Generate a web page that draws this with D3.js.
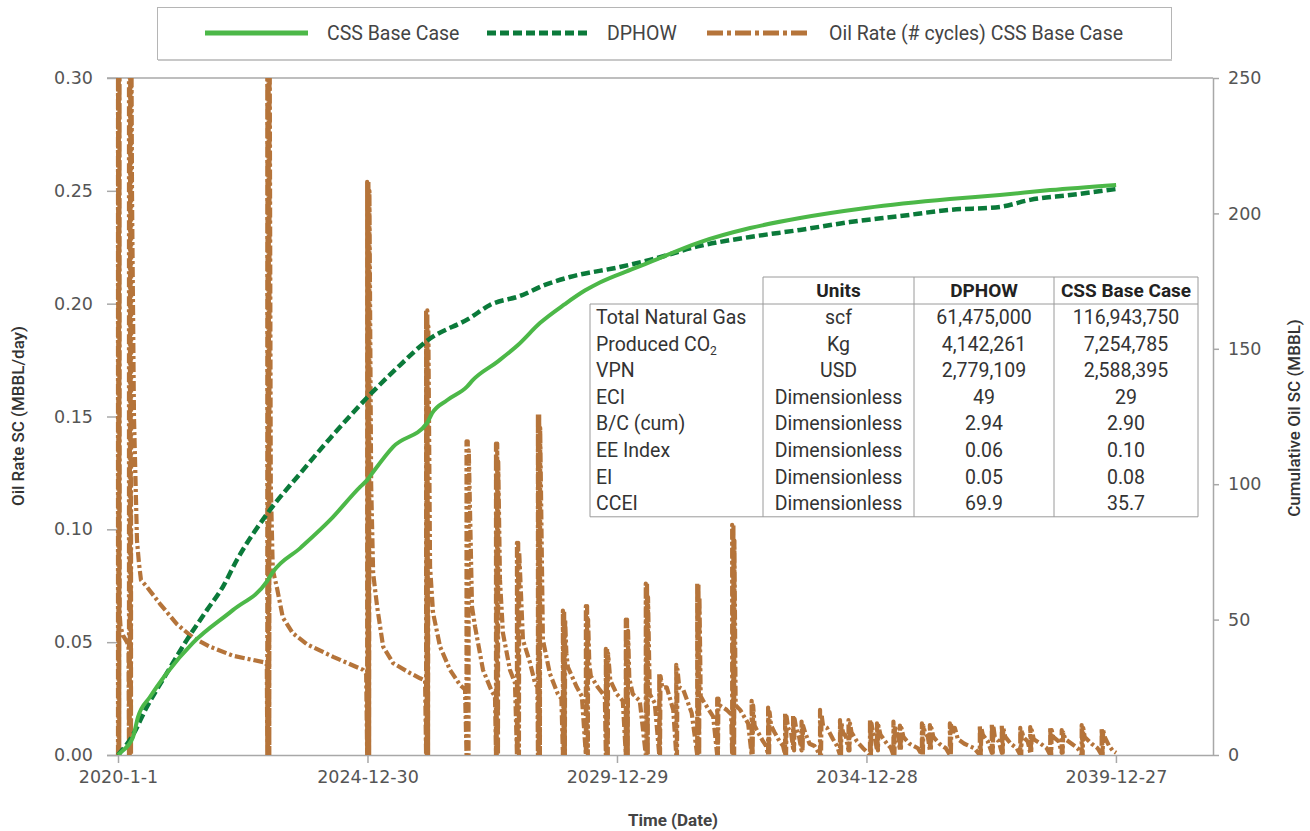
<!DOCTYPE html>
<html><head><meta charset="utf-8">
<script src="https://cdn.jsdelivr.net/npm/d3@7"></script>
<style>body{margin:0;background:#fff} svg{display:block}</style>
</head><body><svg id="chart" width="1310" height="831"></svg>
<script>
// ---------- DATA ----------
const xTickDates  = ["2020-01-01","2024-12-30","2029-12-29","2034-12-28","2039-12-27"];
const xTickLabels = ["2020-1-1","2024-12-30","2029-12-29","2034-12-28","2039-12-27"];
const leftTicks  = [0,0.05,0.10,0.15,0.20,0.25,0.30];
const rightTicks = [0,50,100,150,200,250];

// Cumulative oil (MBBL), CSS Base Case — decimal year / value
const cssYears = [2020.00,2020.04,2020.30,2020.40,2020.64,2020.98,2021.50,2022.30,2022.98,2023.10,2023.65,2024.25,2024.85,2024.99,2025.09,2025.51,2026.19,2026.29,2026.59,2026.99,2027.11,2027.59,2028.01,2028.45,2028.95,2029.35,2029.65,2030.31,2030.65,2031.66,2032.66,2033.66,2034.98,2036.66,2037.66,2038.67,2039.99];
const cssCum   = [0,0.7,6.6,14,21.4,30.3,41.4,53.5,64,67.5,76.4,86.8,99.0,101.5,104,113.8,122.6,126.2,131.0,136.0,138.5,145.1,151.4,159.5,166.5,171.5,174.5,179.5,182,189.4,194.6,198.3,202,205.3,206.8,208.6,210.5];

// Cumulative oil (MBBL), DPHOW
const dphowYears = [2020.00,2020.28,2020.58,2020.98,2021.38,2021.78,2022.10,2022.38,2023.00,2023.65,2024.25,2024.99,2025.65,2026.19,2027.05,2027.45,2028.05,2028.55,2029.05,2030.05,2030.65,2031.66,2032.66,2033.66,2034.66,2035.66,2036.66,2037.66,2038.27,2039.07,2039.99];
const dphowCum   = [0,6.8,17.8,30.3,42.5,53.5,62.1,72,89.4,104,117,132,144,153,161.4,166.2,169.5,173.6,176.5,180.2,182.8,188.0,191.3,193.9,196.8,199.0,201.3,202.4,205.0,206.8,209.0];

// Oil rate (MBBL/day), CSS Base Case cycles — [decimal year, value]
const oilRate = [
 [2020.00,0],[2020.00,0.34],[2020.01,0],[2020.015,0.34],[2020.025,0],[2020.03,0.34],[2020.035,0.062],[2020.05,0.057],[2020.10,0.053],[2020.18,0.050],[2020.21,0.048],
 [2020.22,0],[2020.22,0.34],[2020.235,0],[2020.245,0.34],[2020.26,0],[2020.265,0.34],[2020.28,0.25],[2020.32,0.15],[2020.38,0.095],[2020.42,0.085],[2020.46,0.0775],[2020.58,0.0745],[2020.84,0.067],[2021.18,0.058],[2021.50,0.052],[2021.84,0.048],[2022.30,0.044],[2022.94,0.041],[2022.98,0.040],
 [2022.99,0],[2022.99,0.34],[2023.005,0],[2023.015,0.34],[2023.03,0],[2023.035,0.34],[2023.06,0.12],[2023.10,0.082],[2023.18,0.0745],[2023.30,0.061],[2023.50,0.054],[2023.79,0.049],[2024.31,0.0435],[2024.91,0.0377],[2024.97,0.036],
 [2024.99,0],[2024.99,0.254],[2025.005,0],[2025.015,0.254],[2025.03,0],[2025.035,0.25],[2025.07,0.12],[2025.11,0.0806],[2025.19,0.0657],[2025.31,0.048],[2025.51,0.0407],[2025.85,0.0363],[2026.05,0.034],[2026.15,0.033],
 [2026.17,0],[2026.17,0.197],[2026.185,0],[2026.195,0.197],[2026.21,0],[2026.215,0.19],[2026.25,0.0834],[2026.31,0.063],[2026.45,0.048],[2026.65,0.0377],[2026.85,0.031],[2026.95,0.029],
 [2026.98,0],[2026.98,0.139],[2026.995,0],[2027.005,0.139],[2027.02,0],[2027.025,0.135],[2027.09,0.0657],[2027.15,0.057],[2027.31,0.0377],[2027.49,0.028],[2027.55,0.026],
 [2027.57,0],[2027.57,0.138],[2027.585,0],[2027.595,0.138],[2027.61,0],[2027.615,0.13],[2027.65,0.0776],[2027.71,0.054],[2027.85,0.0377],[2027.95,0.032],
 [2027.99,0],[2027.99,0.094],[2028.005,0],[2028.015,0.094],[2028.03,0],[2028.035,0.09],[2028.11,0.051],[2028.25,0.041],[2028.35,0.032],[2028.40,0.030],
 [2028.41,0],[2028.41,0.151],[2028.425,0],[2028.435,0.151],[2028.45,0],[2028.455,0.145],[2028.51,0.051],[2028.65,0.036],[2028.81,0.027],[2028.88,0.025],
 [2028.91,0],[2028.91,0.064],[2028.925,0],[2028.935,0.064],[2028.95,0],[2028.955,0.060],[2028.98,0.045],[2029.01,0.039],[2029.19,0.030],[2029.29,0.026],
 [2029.37,0],[2029.37,0.066],[2029.385,0],[2029.395,0.066],[2029.41,0],[2029.415,0.060],[2029.44,0.040],[2029.47,0.035],[2029.61,0.030],[2029.75,0.026],
 [2029.77,0],[2029.77,0.047],[2029.785,0],[2029.795,0.047],[2029.81,0],[2029.815,0.045],[2029.86,0.033],[2029.99,0.027],[2030.11,0.024],
 [2030.17,0],[2030.17,0.060],[2030.185,0],[2030.195,0.060],[2030.21,0],[2030.215,0.055],[2030.24,0.034],[2030.31,0.027],[2030.45,0.024],
 [2030.57,0],[2030.57,0.076],[2030.585,0],[2030.595,0.076],[2030.61,0],[2030.615,0.070],[2030.65,0.027],[2030.75,0.023],
 [2030.84,0],[2030.84,0.036],[2030.855,0],[2030.865,0.035],[2030.90,0.030],[2030.99,0.030],[2031.12,0.020],
 [2031.18,0],[2031.18,0.040],[2031.195,0],[2031.205,0.038],[2031.24,0.030],[2031.32,0.029],[2031.49,0.0186],
 [2031.60,0],[2031.60,0.076],[2031.615,0],[2031.625,0.076],[2031.64,0],[2031.645,0.070],[2031.67,0.026],[2031.72,0.024],[2031.92,0.017],
 [2032.00,0],[2032.00,0.025],[2032.015,0],[2032.025,0.025],[2032.05,0.022],[2032.19,0.020],[2032.28,0.018],
 [2032.30,0],[2032.30,0.102],[2032.315,0],[2032.325,0.102],[2032.34,0],[2032.345,0.095],[2032.37,0.022],[2032.46,0.020],[2032.62,0.014],
 [2032.69,0],[2032.69,0.024],[2032.71,0],[2032.72,0.022],[2032.75,0.013],[2032.82,0.010],[2032.92,0.006],[2032.98,0.004],
 [2033.02,0],[2033.02,0.021],[2033.04,0],[2033.05,0.019],[2033.08,0.013],[2033.15,0.010],[2033.25,0.006],[2033.32,0.004],
 [2033.36,0],[2033.36,0.0186],[2033.38,0],[2033.39,0.017],[2033.42,0.012],[2033.48,0.010],
 [2033.52,0.003],[2033.52,0.0177],[2033.54,0.002],[2033.55,0.016],[2033.58,0.012],[2033.64,0.008],
 [2033.69,0.002],[2033.69,0.0148],[2033.71,0.002],[2033.72,0.013],[2033.76,0.010],[2033.85,0.005],[2033.95,0.004],
 [2034.06,0],[2034.06,0.020],[2034.08,0],[2034.09,0.018],[2034.12,0.013],[2034.20,0.012],[2034.32,0.007],[2034.40,0.004],
 [2034.46,0],[2034.46,0.0155],[2034.48,0],[2034.49,0.014],[2034.52,0.010],[2034.58,0.008],
 [2034.63,0.002],[2034.63,0.0155],[2034.65,0.002],[2034.66,0.014],[2034.69,0.010],[2034.80,0.006],[2034.92,0.003],
 [2035.06,0],[2035.06,0.0155],[2035.08,0],[2035.09,0.014],[2035.12,0.010],[2035.16,0.008],
 [2035.20,0.002],[2035.20,0.014],[2035.22,0.002],[2035.23,0.013],[2035.27,0.009],[2035.40,0.005],[2035.48,0.003],
 [2035.53,0],[2035.53,0.0148],[2035.55,0],[2035.56,0.013],[2035.59,0.010],[2035.62,0.009],
 [2035.66,0.002],[2035.66,0.013],[2035.68,0.002],[2035.69,0.012],[2035.73,0.008],[2035.85,0.005],[2036.02,0.003],
 [2036.10,0],[2036.10,0.014],[2036.12,0],[2036.13,0.013],[2036.16,0.010],[2036.22,0.008],
 [2036.26,0.002],[2036.26,0.0133],[2036.28,0.002],[2036.29,0.012],[2036.33,0.008],[2036.45,0.005],[2036.58,0.003],
 [2036.66,0],[2036.66,0.014],[2036.68,0],[2036.69,0.013],[2036.71,0.009],[2036.76,0.012],[2036.82,0.007],[2036.95,0.005],[2037.15,0.003],
 [2037.26,0],[2037.26,0.0133],[2037.28,0],[2037.29,0.012],[2037.32,0.009],[2037.42,0.006],
 [2037.50,0.001],[2037.50,0.014],[2037.52,0.001],[2037.53,0.013],[2037.56,0.008],[2037.64,0.006],
 [2037.70,0.001],[2037.70,0.0133],[2037.72,0.001],[2037.73,0.012],[2037.77,0.008],[2037.88,0.005],[2038.00,0.003],
 [2038.07,0],[2038.07,0.012],[2038.09,0],[2038.10,0.011],[2038.13,0.008],[2038.22,0.006],
 [2038.27,0.001],[2038.27,0.0124],[2038.29,0.001],[2038.30,0.011],[2038.34,0.007],[2038.48,0.005],[2038.60,0.003],
 [2038.67,0],[2038.67,0.0124],[2038.69,0],[2038.70,0.011],[2038.73,0.008],[2038.84,0.006],
 [2038.90,0.001],[2038.90,0.011],[2038.92,0.001],[2038.93,0.010],[2038.97,0.007],[2039.10,0.005],[2039.22,0.003],
 [2039.30,0],[2039.30,0.0133],[2039.32,0],[2039.33,0.012],[2039.36,0.008],[2039.50,0.005],[2039.62,0.003],
 [2039.70,0],[2039.70,0.012],[2039.72,0],[2039.73,0.011],[2039.76,0.008],[2039.85,0.004],[2039.92,0.002],[2039.99,0.001]
];

const seriesNames = ["CSS Base Case","DPHOW","Oil Rate (# cycles) CSS Base Case"];
const tableHeader = ["","Units","DPHOW","CSS Base Case"];
const tableLabels = ["Total Natural Gas","Produced CO\u2082","VPN","ECI","B/C (cum)","EE Index","EI","CCEI"];
const tableUnits  = ["scf","Kg","USD","Dimensionless","Dimensionless","Dimensionless","Dimensionless","Dimensionless"];
const tableDphow  = ["61,475,000","4,142,261","2,779,109","49","2.94","0.06","0.05","69.9"];
const tableCss    = ["116,943,750","7,254,785","2,588,395","29","2.90","0.10","0.08","35.7"];

// ---------- HELPERS ----------
const DAY = 86400000;
const base = Date.UTC(2020,0,1);
const yrToDate = y => new Date(base + (y-2020)*365.25*DAY);

const svg = d3.select("#chart");
const colCss = "#4cb848", colDp = "#0b7a3a", colOil = "#b5743a", axisCol = "#a8a8a8";
const L = 107, R = 1213, T = 78, B = 755;

const x = d3.scaleUtc().domain([new Date(base - 80.5*DAY), new Date(base + 8010*DAY)]).range([L, R]);
const yL = d3.scaleLinear().domain([0,0.30]).range([B, T]);
const yR = d3.scaleLinear().domain([0,250]).range([B, T]);

svg.append("defs").append("clipPath").attr("id","plotclip")
  .append("rect").attr("x",L).attr("y",T).attr("width",R-L).attr("height",B-T);

// Top frame line
svg.append("line").attr("x1",L).attr("x2",R).attr("y1",T).attr("y2",T).attr("stroke",axisCol).attr("stroke-width",1.5);

const tickFont = "DejaVu Sans", tickSize = "17.5px", tickCol = "#555";
// X axis
const xAxis = d3.axisBottom(x).tickValues(xTickDates.map(d=>new Date(d+"T00:00:00Z")))
  .tickFormat((d,i)=>xTickLabels[i]).tickSize(8).tickPadding(8);
const gx = svg.append("g").attr("transform",`translate(0,${B})`).call(xAxis);
gx.select(".domain").attr("stroke",axisCol).attr("stroke-width",1.5).attr("d",`M${L},0.5H${R}`);
gx.selectAll(".tick line").attr("stroke",axisCol).attr("stroke-width",1.5);
gx.selectAll("text").attr("fill",tickCol).style("font-family",tickFont).style("font-size",tickSize);

// Left axis
const gl = svg.append("g").attr("transform",`translate(${x(new Date(base))},0)`)
  .call(d3.axisLeft(yL).tickValues(leftTicks).tickFormat(d3.format(".2f")).tickSize(11).tickPadding(14));
gl.select(".domain").remove();
gl.selectAll(".tick line").attr("stroke",axisCol).attr("stroke-width",1.5);
gl.selectAll("text").attr("fill",tickCol).style("font-family",tickFont).style("font-size",tickSize);

// Right axis
const gr = svg.append("g").attr("transform",`translate(${R},0)`)
  .call(d3.axisRight(yR).tickValues(rightTicks).tickSize(6).tickPadding(9));
gr.select(".domain").attr("stroke",axisCol).attr("stroke-width",1.5).attr("d",`M0.5,${T}V${B}`);
gr.selectAll(".tick line").attr("stroke",axisCol).attr("stroke-width",1.5);
gr.selectAll("text").attr("fill",tickCol).style("font-family",tickFont).style("font-size",tickSize);

// Axis titles
const titleFont = "Roboto";
svg.append("text").attr("x",673).attr("y",826).attr("text-anchor","middle")
  .style("font-family",titleFont).style("font-weight","700").style("font-size","17px").attr("fill","#444").text("Time (Date)");
svg.append("text").attr("transform","translate(24,416) rotate(-90)").attr("text-anchor","middle")
  .style("font-family",titleFont).style("font-weight","500").style("font-size","17px").attr("fill","#333").text("Oil Rate SC (MBBL/day)");
svg.append("text").attr("transform","translate(1300,418) rotate(-90)").attr("text-anchor","middle")
  .style("font-family",titleFont).style("font-weight","500").style("font-size","17px").attr("fill","#333").text("Cumulative Oil SC (MBBL)");

// ---------- SERIES ----------
const plot = svg.append("g").attr("clip-path","url(#plotclip)");

const oilLine = d3.line().x(d=>x(yrToDate(d[0]))).y(d=>yL(d[1]));
plot.append("path").datum(oilRate).attr("d",oilLine).attr("fill","none")
  .attr("stroke",colOil).attr("stroke-width",4.2).attr("stroke-dasharray","10,3,3,3").attr("stroke-linejoin","round");

const cumLine = d3.line().x(d=>x(yrToDate(d[0]))).y(d=>yR(d[1])).curve(d3.curveMonotoneX);
plot.append("path").datum(dphowYears.map((y,i)=>[y,dphowCum[i]])).attr("d",cumLine).attr("fill","none")
  .attr("stroke",colDp).attr("stroke-width",4.5).attr("stroke-dasharray","9,4");
plot.append("path").datum(cssYears.map((y,i)=>[y,cssCum[i]])).attr("d",cumLine).attr("fill","none")
  .attr("stroke",colCss).attr("stroke-width",4);

// ---------- LEGEND ----------
const lg = svg.append("g");
lg.append("rect").attr("x",157.5).attr("y",7.5).attr("width",1014).attr("height",52).attr("fill","#fff").attr("stroke","#b5b5b5");
lg.append("line").attr("x1",158).attr("x2",1172).attr("y1",60).attr("y2",60).attr("stroke","#c8c8c8").attr("stroke-width",2);
const legItems = [
  {x:205, tx:327, col:colCss, dash:null, w:5},
  {x:487, tx:607, col:colDp, dash:"9,4", w:5},
  {x:707, tx:829, col:colOil, dash:"16,4,4,4", w:5}
];
legItems.forEach((it,i)=>{
  const ln = lg.append("line").attr("x1",it.x).attr("x2",it.x+103).attr("y1",33).attr("y2",33)
    .attr("stroke",it.col).attr("stroke-width",it.w);
  if(it.dash) ln.attr("stroke-dasharray",it.dash);
  lg.append("text").attr("x",it.tx).attr("y",40).attr("fill","#444")
    .style("font-family","Roboto").style("font-size","19.5px").text(seriesNames[i]);
});

// ---------- TABLE ----------
const tg = svg.append("g");
const colX = [590,763,914,1054,1198];
const hTop = 277, hBot = 304, rowH = 26.6, tBot = hBot + rowH*tableLabels.length;
const tcol = "#9a9a9a";
tg.append("line").attr("x1",colX[1]).attr("x2",colX[4]).attr("y1",hTop).attr("y2",hTop).attr("stroke",tcol);
tg.append("line").attr("x1",colX[0]).attr("x2",colX[4]).attr("y1",hBot).attr("y2",hBot).attr("stroke",tcol);
tg.append("line").attr("x1",colX[0]).attr("x2",colX[4]).attr("y1",tBot).attr("y2",tBot).attr("stroke",tcol);
tg.append("line").attr("x1",colX[0]).attr("x2",colX[0]).attr("y1",hBot).attr("y2",tBot).attr("stroke",tcol);
[1,2,3,4].forEach(i=>tg.append("line").attr("x1",colX[i]).attr("x2",colX[i]).attr("y1",hTop).attr("y2",tBot).attr("stroke",tcol));
const tf = "Roboto", tfs = "19.5px";
tableHeader.forEach((h,i)=>{
  if(!h) return;
  tg.append("text").attr("x",(colX[i]+colX[i+1])/2).attr("y",hTop+20).attr("text-anchor","middle")
    .style("font-family",tf).style("font-weight","700").style("font-size","19px").attr("fill","#222").text(h);
});
tableLabels.forEach((lab,r)=>{
  const yy = hBot + rowH*r + 20;
  const t0 = tg.append("text").attr("x",colX[0]+6).attr("y",yy)
    .style("font-family",tf).style("font-size",tfs).attr("fill","#333");
  if(lab.includes("\u2082")){
    t0.append("tspan").text("Produced CO");
    t0.append("tspan").attr("dy",4).style("font-size","12px").text("2");
  } else t0.text(lab);
  [tableUnits[r],tableDphow[r],tableCss[r]].forEach((v,c)=>{
    tg.append("text").attr("x",(colX[c+1]+colX[c+2])/2).attr("y",yy).attr("text-anchor","middle")
      .style("font-family",tf).style("font-size",tfs).attr("fill","#333").text(v);
  });
});
</script>
</body></html>
